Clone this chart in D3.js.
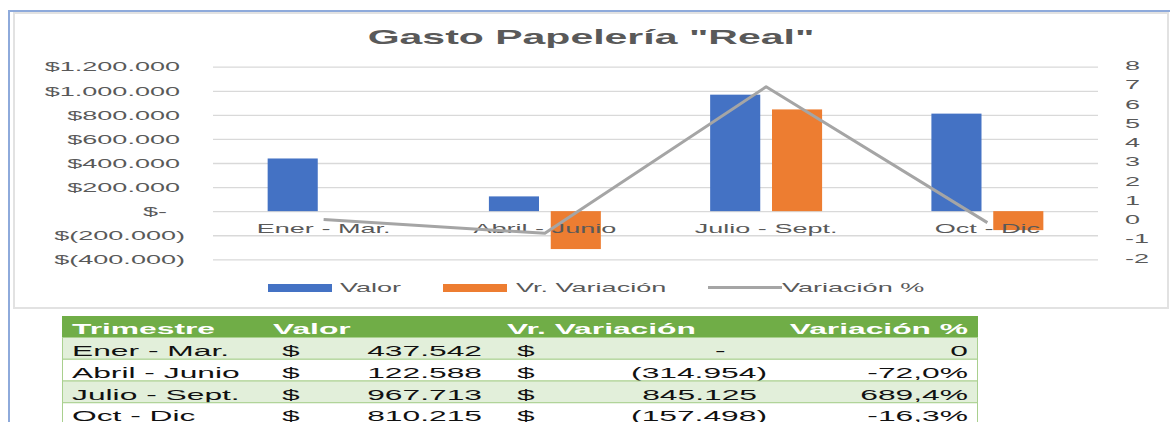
<!DOCTYPE html>
<html lang="es">
<head>
<meta charset="UTF-8">
<title>Gasto Papelería "Real"</title>
<style>
  body, html { margin: 0; padding: 0; background: #fff; overflow: hidden; }
  svg { display: block; font-family: "Liberation Sans", Arial, sans-serif; }
</style>
</head>
<body>
<script src="https://d3js.org/d3.v7.min.js"></script>
<script>
// data
var categories = ["Ener - Mar.", "Abril - Junio", "Julio - Sept.", "Oct - Dic"];
var valor = [437542, 122588, 967713, 810215];
var vrVariacion = [0, -314954, 845125, -157498];
var variacionPct = [0, -0.720, 6.894, -0.163];
var leftTicks = [1200000, 1000000, 800000, 600000, 400000, 200000, 0, -200000, -400000];
var rightTicks = [8, 7, 6, 5, 4, 3, 2, 1, 0, -1, -2];
var seriesNames = ["Valor", "Vr. Variación", "Variación %"];
var tableHeader = ["Trimestre", "Valor", "Vr. Variación", "Variación %"];

var width = 1170, height = 422;
var SX = 2.05; // the screenshot is stretched sideways, text gets the same stretch

var colors = { "Valor": "#4472c4", "Vr. Variación": "#ed7d31", "Variación %": "#a5a5a5" };

var loc = d3.formatLocale({ decimal: ",", thousands: ".", grouping: [3], currency: ["$", ""], minus: "-" });
var fmtInt = loc.format(",.0f");
var fmtPct = loc.format(".1%");
var fmtD = loc.format("d");

function acc(v) {           // excel accounting look
    if (v === 0) return "-";
    return v < 0 ? "(" + fmtInt(-v) + ")" : fmtInt(v);
}

var svg = d3.select("body").append("svg")
    .attr("width", width)
    .attr("height", height);

// helper: place a stretched text
function stretch(sel, x, y) {
    return sel.attr("transform", "translate(" + x + "," + y + ") scale(" + SX + ",1)");
}

// sheet selection frame + chart frame
svg.append("path")
    .attr("d", "M9,422 V11 H1170")
    .attr("fill", "none")
    .attr("stroke", "#8eaadb")
    .attr("stroke-width", 2);
svg.append("rect")
    .attr("x", 14).attr("y", 13)
    .attr("width", 1154).attr("height", 295)
    .attr("fill", "#fff")
    .attr("stroke", "#e2e2e2")
    .attr("stroke-width", 2);

// title
stretch(svg.append("text"), 591, 43.5)
    .attr("text-anchor", "middle")
    .attr("font-size", 20)
    .attr("font-weight", "bold")
    .attr("fill", "#595959")
    .text('Gasto Papelería "Real"');

// scales
var plotLeft = 213, plotRight = 1098;
var x0 = d3.scaleBand().domain(categories).range([plotLeft, plotRight])
    .paddingInner(0.494).paddingOuter(0.247);
var x1 = d3.scaleBand().domain(["Valor", "Vr. Variación"]).range([0, x0.bandwidth()])
    .paddingInner(0.19);
var yL = d3.scaleLinear().domain([-400000, 1200000]).range([259.3, 66.7]);
var yR = d3.scaleLinear().domain([-2, 8]).range([258, 65.5]);

// gridlines
var grid = svg.append("g")
    .attr("transform", "translate(" + plotLeft + ",0)")
    .call(d3.axisLeft(yL).tickValues(leftTicks).tickSize(-(plotRight - plotLeft)).tickFormat(""));
grid.select(".domain").remove();
grid.selectAll("line").attr("stroke", "#d9d9d9").attr("stroke-width", 1.3);

// left axis
var axL = svg.append("g")
    .attr("transform", "translate(" + plotLeft + ",0)")
    .call(d3.axisLeft(yL).tickValues(leftTicks).tickSize(0)
        .tickFormat(function(v) { return v === 0 ? "$-" : "$" + acc(v); }));
axL.select(".domain").remove();
axL.selectAll("text")
    .attr("x", 0)
    .attr("font-size", 13.2)
    .attr("fill", "#595959")
    .attr("font-family", "Liberation Sans, Arial, sans-serif")
    .each(function(v) {
        var off = v === 0 ? -46 : (v < 0 ? -28 : -33);
        stretch(d3.select(this), off, 0);
    });

// right axis
var axR = svg.append("g")
    .attr("transform", "translate(1125,0)")
    .call(d3.axisRight(yR).tickValues(rightTicks).tickSize(0).tickFormat(fmtD));
axR.select(".domain").remove();
axR.selectAll("text")
    .attr("x", 0)
    .attr("font-size", 13.2)
    .attr("fill", "#595959")
    .attr("font-family", "Liberation Sans, Arial, sans-serif")
    .attr("text-anchor", "start")
    .each(function() { stretch(d3.select(this), 0, 0); });

// bars
var rows = categories.map(function(c, i) {
    return { cat: c, vals: [{ key: "Valor", v: valor[i] }, { key: "Vr. Variación", v: vrVariacion[i] }] };
});
svg.append("g").selectAll("g")
    .data(rows)
    .enter().append("g")
    .attr("transform", function(d) { return "translate(" + x0(d.cat) + ",0)"; })
    .selectAll("rect")
    .data(function(d) { return d.vals; })
    .enter().append("rect")
    .attr("x", function(d) { return x1(d.key); })
    .attr("width", x1.bandwidth())
    .attr("y", function(d) { return yL(Math.max(0, d.v)); })
    .attr("height", function(d) { return Math.abs(yL(d.v) - yL(0)); })
    .attr("fill", function(d) { return colors[d.key]; });

// category labels
svg.append("g").selectAll("text")
    .data(categories)
    .enter().append("text")
    .attr("text-anchor", "middle")
    .attr("font-size", 13.2)
    .attr("fill", "#595959")
    .each(function(c) { stretch(d3.select(this), x0(c) + x0.bandwidth() / 2, 233); })
    .text(function(c) { return c; });

// line
var line = d3.line()
    .x(function(d, i) { return x0(categories[i]) + x0.bandwidth() / 2; })
    .y(function(d) { return yR(d); });
svg.append("path")
    .datum(variacionPct)
    .attr("d", line)
    .attr("fill", "none")
    .attr("stroke", colors["Variación %"])
    .attr("stroke-width", 3)
    .attr("stroke-linejoin", "round");

// legend
var legendPos = [{ x: 268, tx: 340 }, { x: 443, tx: 516 }, { x: 708, tx: 782 }];
var lg = svg.append("g").selectAll("g")
    .data(seriesNames)
    .enter().append("g");
lg.each(function(name, i) {
    var g = d3.select(this), p = legendPos[i];
    if (i < 2) {
        g.append("rect").attr("x", p.x).attr("y", 284).attr("width", 64).attr("height", 8)
            .attr("fill", colors[name]);
    } else {
        g.append("line").attr("x1", p.x).attr("x2", p.x + 74).attr("y1", 287.5).attr("y2", 287.5)
            .attr("stroke", colors[name]).attr("stroke-width", 3);
    }
    stretch(g.append("text"), p.tx, 292)
        .attr("font-size", 13.2)
        .attr("fill", "#595959")
        .text(name);
});

// table under the chart
var tX = 62, tW = 916, headTop = 316, headH = 21.5, rowH = 21.75;
var tfont = 15.5;
svg.append("rect")
    .attr("x", tX).attr("y", headTop).attr("width", tW).attr("height", headH)
    .attr("fill", "#70ad47");
var headX = [{ x: 72, a: "start" }, { x: 273, a: "start" }, { x: 507, a: "start" }, { x: 968, a: "end" }];
tableHeader.forEach(function(h, i) {
    stretch(svg.append("text"), headX[i].x, 334)
        .attr("text-anchor", headX[i].a)
        .attr("font-size", tfont)
        .attr("font-weight", "bold")
        .attr("fill", "#ffffff")
        .text(h);
});

var yRow = d3.scaleBand().domain(categories)
    .range([headTop + headH, headTop + headH + rowH * categories.length]);
var trow = svg.append("g").selectAll("g")
    .data(categories)
    .enter().append("g")
    .attr("transform", function(c) { return "translate(0," + yRow(c) + ")"; });
trow.append("rect")
    .attr("x", tX + 0.5).attr("y", 0)
    .attr("width", tW - 1).attr("height", yRow.bandwidth())
    .attr("fill", function(c, i) { return i % 2 === 0 ? "#e2efda" : "#ffffff"; })
    .attr("stroke", "#a9d08e")
    .attr("stroke-width", 1);
trow.each(function(c, i) {
    var g = d3.select(this), by = 18.5;
    function cell(x, anchor, s) {
        stretch(g.append("text"), x, by)
            .attr("text-anchor", anchor)
            .attr("font-size", tfont)
            .attr("fill", "#111")
            .text(s);
    }
    cell(72, "start", c);
    cell(282, "start", "$");
    cell(482, "end", acc(valor[i]));
    cell(517, "start", "$");
    var vr = vrVariacion[i];
    if (vr === 0) cell(715, "start", "-");
    else cell(vr < 0 ? 767 : 757, "end", acc(vr));
    var p = variacionPct[i];
    cell(968, "end", p === 0 ? "0" : fmtPct(p));
});
</script>
</body>
</html>
